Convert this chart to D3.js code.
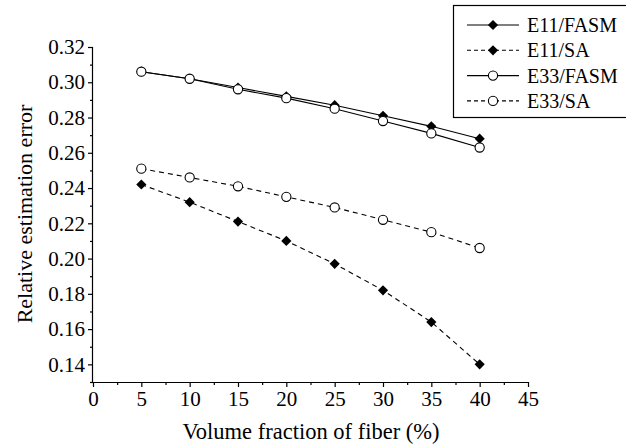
<html>
<head>
<meta charset="utf-8">
<script src="https://cdn.jsdelivr.net/npm/d3@7"></script>
<style>
  body { margin: 0; background: #fff; }
  svg text { font-family: "Liberation Serif", "Times New Roman", serif; fill: #000; }
</style>
</head>
<body>
<div id="chart"></div>
<script>
// data
var fractions = [5, 10, 15, 20, 25, 30, 35, 40];
var e11Fasm = [0.306, 0.302, 0.297, 0.292, 0.287, 0.281, 0.275, 0.268];
var e11Sa   = [0.242, 0.232, 0.221, 0.210, 0.197, 0.182, 0.164, 0.140];
var e33Fasm = [0.306, 0.302, 0.296, 0.291, 0.285, 0.278, 0.271, 0.263];
var e33Sa   = [0.251, 0.246, 0.241, 0.235, 0.229, 0.222, 0.215, 0.206];
var xTicks = [0, 5, 10, 15, 20, 25, 30, 35, 40, 45];
var yTicks = [0.14, 0.16, 0.18, 0.20, 0.22, 0.24, 0.26, 0.28, 0.30, 0.32];

var series = [
  { name: "E11/FASM", values: e11Fasm, dashed: false, marker: "diamond" },
  { name: "E11/SA",   values: e11Sa,   dashed: true,  marker: "diamond" },
  { name: "E33/FASM", values: e33Fasm, dashed: false, marker: "circle" },
  { name: "E33/SA",   values: e33Sa,   dashed: true,  marker: "circle" }
];

var width = 626, height = 446;
var margin = { left: 93, right: 98, top: 47, bottom: 64 };

var svg = d3.select("#chart").append("svg")
  .attr("width", width)
  .attr("height", height);

var x = d3.scaleLinear().domain([0, 45]).range([margin.left, width - margin.right]);
var y = d3.scaleLinear().domain([0.13, 0.32]).range([height - margin.bottom, margin.top]);

// axes: major ticks + minor ticks
var xAxis = svg.append("g")
  .attr("transform", "translate(0," + (height - margin.bottom) + ")")
  .call(d3.axisBottom(x).tickValues(xTicks).tickSize(5).tickPadding(4).tickFormat(d3.format("d")));
svg.append("g")
  .attr("transform", "translate(0," + (height - margin.bottom) + ")")
  .call(d3.axisBottom(x).tickValues(d3.range(2.5, 45, 5)).tickSize(3).tickFormat(""))
  .select(".domain").remove();

var yAxis = svg.append("g")
  .attr("transform", "translate(" + margin.left + ",0)")
  .call(d3.axisLeft(y).tickValues(yTicks).tickSize(5).tickPadding(3).tickFormat(d3.format(".2f")));
svg.append("g")
  .attr("transform", "translate(" + margin.left + ",0)")
  .call(d3.axisLeft(y).tickValues(d3.range(0.13, 0.32, 0.02)).tickSize(3).tickFormat(""))
  .select(".domain").remove();

xAxis.select(".domain").attr("d", "M" + x(0) + ",0.5H" + x(45));
yAxis.select(".domain").attr("d", "M-0.5," + y(0.13) + "V" + y(0.32));
svg.selectAll(".tick line, .domain").attr("stroke", "#000").attr("stroke-width", 1.2);
svg.selectAll(".tick text").attr("font-size", 21);

// axis titles
svg.append("text")
  .attr("x", 311)
  .attr("y", height - 7)
  .attr("text-anchor", "middle")
  .attr("font-size", 22.5)
  .text("Volume fraction of fiber (%)");
svg.append("text")
  .attr("transform", "translate(32,214) rotate(-90)")
  .attr("text-anchor", "middle")
  .attr("font-size", 22)
  .text("Relative estimation error");

var line = d3.line()
  .x(function(d, i) { return x(fractions[i]); })
  .y(function(d) { return y(d); });

var diamond = d3.symbol().type(d3.symbolDiamond2).size(66);

function drawMarker(g, kind) {
  if (kind === "diamond") {
    g.append("path").attr("d", diamond()).attr("fill", "#000");
  } else {
    g.append("circle").attr("r", 4.6).attr("fill", "#fff").attr("stroke", "#000").attr("stroke-width", 1.1);
  }
}

series.forEach(function(s) {
  svg.append("path")
    .datum(s.values)
    .attr("d", line)
    .attr("fill", "none")
    .attr("stroke", "#000")
    .attr("stroke-width", 1.1)
    .attr("stroke-dasharray", s.dashed ? "5,4" : null);
});
series.forEach(function(s) {
  s.values.forEach(function(v, i) {
    var g = svg.append("g").attr("transform", "translate(" + x(fractions[i]) + "," + y(v) + ")");
    drawMarker(g, s.marker);
  });
});

// legend
var legend = svg.append("g").attr("transform", "translate(453,5)");
legend.append("rect")
  .attr("x", 0.5).attr("y", 0.5)
  .attr("width", 180).attr("height", 112)
  .attr("fill", "#fff").attr("stroke", "#000").attr("stroke-width", 1.2);
series.forEach(function(s, i) {
  var row = legend.append("g").attr("transform", "translate(0," + (20 + i * 25.3) + ")");
  row.append("line")
    .attr("x1", 14).attr("x2", 66)
    .attr("stroke", "#000").attr("stroke-width", 1.1)
    .attr("stroke-dasharray", s.dashed ? "4,3" : null);
  drawMarker(row.append("g").attr("transform", "translate(40,0)"), s.marker);
  row.append("text")
    .attr("x", 74).attr("y", 7)
    .attr("font-size", 20)
    .text(s.name);
});
</script>
</body>
</html>
